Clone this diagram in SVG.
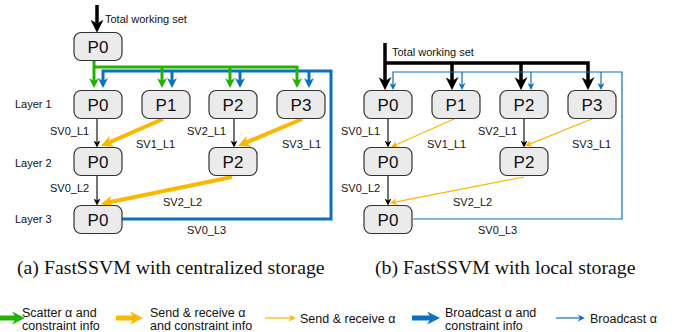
<svg xmlns="http://www.w3.org/2000/svg" width="674" height="332" viewBox="0 0 674 332">
<style>
.box{fill:#ebebeb;stroke:#333;stroke-width:1.2}
.bt{font-family:"Liberation Sans",Arial,Helvetica,sans-serif;font-size:17px;fill:#111;text-anchor:middle}
.t{font-family:"Liberation Sans",Arial,Helvetica,sans-serif;font-size:11px;fill:#111}
.lg{font-family:"Liberation Sans",Arial,Helvetica,sans-serif;font-size:12.5px;fill:#111}
.cap{font-family:"Liberation Serif","Times New Roman",serif;font-size:19.8px;fill:#111}
.g{fill:none;stroke:#22b300;stroke-width:3}
.bl{fill:none;stroke:#0a70bf;stroke-width:3}
.blt{fill:none;stroke:#0a70bf;stroke-width:1.2}
.o{fill:none;stroke:#fbb800;stroke-width:4}
.ot{fill:none;stroke:#fbb800;stroke-width:1.2}
.k{fill:none;stroke:#000;stroke-width:3.5}
.kt{fill:none;stroke:#000;stroke-width:1.1}
</style>
<defs>
<marker id="hg" viewBox="0 0 10 10" refX="3" refY="5" markerWidth="10" markerHeight="10" markerUnits="userSpaceOnUse" orient="auto"><path d="M0,0 L10,5 L0,10 L3,5 z" fill="#22b300"/></marker>
<marker id="hb" viewBox="0 0 10 10" refX="3" refY="5" markerWidth="10" markerHeight="10" markerUnits="userSpaceOnUse" orient="auto"><path d="M0,0 L10,5 L0,10 L3,5 z" fill="#0a70bf"/></marker>
<marker id="ho" viewBox="0 0 10 10" refX="3" refY="5" markerWidth="12" markerHeight="12" markerUnits="userSpaceOnUse" orient="auto"><path d="M0,0 L10,5 L0,10 L3,5 z" fill="#fbb800"/></marker>
<marker id="hk" viewBox="0 0 10 10" refX="3" refY="5" markerWidth="13" markerHeight="13" markerUnits="userSpaceOnUse" orient="auto"><path d="M0,0 L10,5 L0,10 L3,5 z" fill="#000"/></marker>
<marker id="hkt" viewBox="0 0 10 10" refX="3" refY="5" markerWidth="7" markerHeight="7" markerUnits="userSpaceOnUse" orient="auto"><path d="M0,0 L10,5 L0,10 L3,5 z" fill="#000"/></marker>
<marker id="hot" viewBox="0 0 10 10" refX="3" refY="5" markerWidth="7" markerHeight="7" markerUnits="userSpaceOnUse" orient="auto"><path d="M0,0 L10,5 L0,10 L3,5 z" fill="#fbb800"/></marker>
<marker id="hbt" viewBox="0 0 10 10" refX="3" refY="5" markerWidth="7" markerHeight="7" markerUnits="userSpaceOnUse" orient="auto"><path d="M0,0 L10,5 L0,10 L3,5 z" fill="#0a70bf"/></marker>
<marker id="hgL" viewBox="0 0 10 10" refX="3" refY="5" markerWidth="13" markerHeight="13" markerUnits="userSpaceOnUse" orient="auto"><path d="M0,0 L10,5 L0,10 L3,5 z" fill="#22b300"/></marker>
<marker id="hoL" viewBox="0 0 10 10" refX="3" refY="5" markerWidth="13" markerHeight="13" markerUnits="userSpaceOnUse" orient="auto"><path d="M0,0 L10,5 L0,10 L3,5 z" fill="#fbb800"/></marker>
<marker id="hbL" viewBox="0 0 10 10" refX="3" refY="5" markerWidth="13" markerHeight="13" markerUnits="userSpaceOnUse" orient="auto"><path d="M0,0 L10,5 L0,10 L3,5 z" fill="#0a70bf"/></marker>
</defs>

<g id="connectors">
<path class="k" d="M97,5 V23.6" marker-end="url(#hk)"/>
<path class="bl" d="M122,219 H331 V71 H103 V81" marker-end="url(#hb)"/>
<path class="bl" d="M172,71 V81" marker-end="url(#hb)"/>
<path class="bl" d="M240,71 V81" marker-end="url(#hb)"/>
<path class="bl" d="M309,71 V81" marker-end="url(#hb)"/>
<path class="g" d="M94,61 V81" marker-end="url(#hg)"/>
<path class="g" d="M94,67 H297 V81" marker-end="url(#hg)"/>
<path class="g" d="M162,67 V81" marker-end="url(#hg)"/>
<path class="g" d="M230,67 V81" marker-end="url(#hg)"/>
<path class="kt" d="M97,118.5 V142.6" marker-end="url(#hkt)"/>
<path class="kt" d="M234,118.5 V142.6" marker-end="url(#hkt)"/>
<path class="kt" d="M97,175.5 V200.6" marker-end="url(#hkt)"/>
<path class="o" d="M163,119 L108.7,142.6" marker-end="url(#ho)"/>
<path class="o" d="M302,119 L245.7,142.7" marker-end="url(#ho)"/>
<path class="o" d="M232,177 L109.2,202.3" marker-end="url(#ho)"/>
<path class="k" d="M385,43 V81" marker-end="url(#hk)"/>
<path class="k" d="M385,63 H588 V81" marker-end="url(#hk)"/>
<path class="k" d="M452,63 V81" marker-end="url(#hk)"/>
<path class="k" d="M521,63 V81" marker-end="url(#hk)"/>
<path class="blt" d="M413,219 H622 V72 H393 V85" marker-end="url(#hbt)"/>
<path class="blt" d="M462,72 V85" marker-end="url(#hbt)"/>
<path class="blt" d="M531,72 V85" marker-end="url(#hbt)"/>
<path class="blt" d="M601,72 V85" marker-end="url(#hbt)"/>
<path class="kt" d="M388,118.5 V142.6" marker-end="url(#hkt)"/>
<path class="kt" d="M524,118.5 V142.6" marker-end="url(#hkt)"/>
<path class="kt" d="M388,175.5 V200.6" marker-end="url(#hkt)"/>
<path class="ot" d="M455,118.5 L395.5,145" marker-end="url(#hot)"/>
<path class="ot" d="M593,118.5 L529.5,144.1" marker-end="url(#hot)"/>
<path class="ot" d="M524,177 L394.8,202.1" marker-end="url(#hot)"/>
</g>

<g id="left-top-P0"><rect class="box" x="74" y="32.5" width="48" height="28" rx="7"/><text class="bt" x="98" y="52.5">P0</text></g>
<g id="left-L1-P0"><rect class="box" x="74" y="90.5" width="48" height="28" rx="7"/><text class="bt" x="98" y="110.5">P0</text></g>
<g id="left-L1-P1"><rect class="box" x="142" y="90.5" width="48" height="28" rx="7"/><text class="bt" x="166" y="110.5">P1</text></g>
<g id="left-L1-P2"><rect class="box" x="209" y="90.5" width="48" height="28" rx="7"/><text class="bt" x="233" y="110.5">P2</text></g>
<g id="left-L1-P3"><rect class="box" x="277" y="90.5" width="48" height="28" rx="7"/><text class="bt" x="301" y="110.5">P3</text></g>
<g id="left-L2-P0"><rect class="box" x="74" y="147.5" width="48" height="28" rx="7"/><text class="bt" x="98" y="167.5">P0</text></g>
<g id="left-L2-P2"><rect class="box" x="209" y="147.5" width="48" height="28" rx="7"/><text class="bt" x="233" y="167.5">P2</text></g>
<g id="left-L3-P0"><rect class="box" x="74" y="205.5" width="48" height="28" rx="7"/><text class="bt" x="98" y="225.5">P0</text></g>

<g id="right-L1-P0"><rect class="box" x="364" y="90.5" width="48" height="28" rx="7"/><text class="bt" x="388" y="110.5">P0</text></g>
<g id="right-L1-P1"><rect class="box" x="432" y="90.5" width="48" height="28" rx="7"/><text class="bt" x="456" y="110.5">P1</text></g>
<g id="right-L1-P2"><rect class="box" x="500" y="90.5" width="48" height="28" rx="7"/><text class="bt" x="524" y="110.5">P2</text></g>
<g id="right-L1-P3"><rect class="box" x="568" y="90.5" width="48" height="28" rx="7"/><text class="bt" x="592" y="110.5">P3</text></g>
<g id="right-L2-P0"><rect class="box" x="364" y="147.5" width="48" height="28" rx="7"/><text class="bt" x="388" y="167.5">P0</text></g>
<g id="right-L2-P2"><rect class="box" x="500" y="147.5" width="48" height="28" rx="7"/><text class="bt" x="524" y="167.5">P2</text></g>
<g id="right-L3-P0"><rect class="box" x="364" y="205.5" width="48" height="28" rx="7"/><text class="bt" x="388" y="225.5">P0</text></g>

<g id="labels">
<text class="t" x="105" y="23">Total working set</text>
<text class="t" x="15" y="108">Layer 1</text>
<text class="t" x="15" y="167">Layer 2</text>
<text class="t" x="15" y="223">Layer 3</text>
<text class="t" x="50" y="135">SV0_L1</text>
<text class="t" x="136" y="148">SV1_L1</text>
<text class="t" x="187" y="135">SV2_L1</text>
<text class="t" x="282" y="148">SV3_L1</text>
<text class="t" x="50" y="192">SV0_L2</text>
<text class="t" x="163" y="206">SV2_L2</text>
<text class="t" x="187" y="234">SV0_L3</text>
<text class="t" x="392" y="56">Total working set</text>
<text class="t" x="341" y="135">SV0_L1</text>
<text class="t" x="427" y="148">SV1_L1</text>
<text class="t" x="478" y="135">SV2_L1</text>
<text class="t" x="572" y="148">SV3_L1</text>
<text class="t" x="341" y="192">SV0_L2</text>
<text class="t" x="453" y="206">SV2_L2</text>
<text class="t" x="478" y="234">SV0_L3</text>
<text class="cap" x="17" y="274">(a) FastSSVM with centralized storage</text>
<text class="cap" x="375" y="274">(b) FastSSVM with local storage</text>
</g>

<g id="legend">
<path class="g" style="stroke-width:5" d="M0,318 H16" marker-end="url(#hgL)"/>
<text class="lg" x="22" y="316.5">Scatter α and</text>
<text class="lg" x="22" y="329.5">constraint info</text>
<path class="o" style="stroke-width:5" d="M116,318 H134" marker-end="url(#hoL)"/>
<text class="lg" x="150" y="316.5">Send &amp; receive α</text>
<text class="lg" x="150" y="329.5">and constraint info</text>
<path class="ot" d="M265,318 H291" marker-end="url(#hot)"/>
<text class="lg" x="300" y="322.5">Send &amp; receive α</text>
<path class="bl" style="stroke-width:5" d="M412,318 H431" marker-end="url(#hbL)"/>
<text class="lg" x="445" y="316.5">Broadcast α and</text>
<text class="lg" x="445" y="329.5">constraint info</text>
<path class="blt" d="M556,318 H580" marker-end="url(#hbt)"/>
<text class="lg" x="590" y="322.5">Broadcast α</text>
</g>
</svg>
